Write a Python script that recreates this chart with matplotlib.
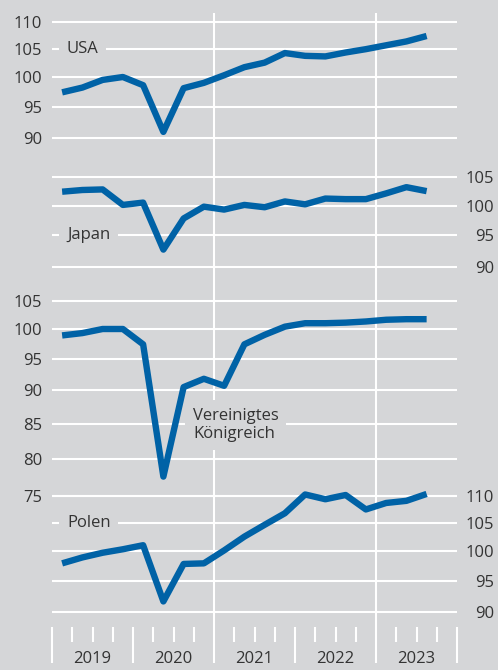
import numpy as np
import matplotlib
matplotlib.use("Agg")
import matplotlib.pyplot as plt
from matplotlib.ticker import NullLocator, MultipleLocator

# quarterly index values, 2019Q1 .. 2023Q3
quarters = np.arange(2019, 2023.75, 0.25) + 0.125
usa = [97.4, 98.2, 99.5, 100.0, 98.6, 91.0, 98.1, 99.0, 100.3, 101.7,
       102.5, 104.2, 103.7, 103.6, 104.3, 104.9, 105.6, 106.3, 107.3]
japan = [102.4, 102.7, 102.8, 100.1, 100.5, 92.7, 97.8, 99.8, 99.3, 100.1,
         99.7, 100.7, 100.2, 101.2, 101.1, 101.1, 102.1, 103.2, 102.5]
uk = [98.9, 99.3, 100.0, 100.0, 97.4, 77.6, 90.5, 91.8, 90.7, 97.4,
      99.0, 100.4, 101.0, 101.0, 101.1, 101.3, 101.6, 101.7, 101.7]
poland = [97.9, 98.9, 99.7, 100.3, 101.0, 91.7, 97.8, 97.9, 100.1, 102.5,
          104.6, 106.7, 110.2, 109.3, 110.1, 107.4, 108.6, 109.0, 110.3]

years = [2019, 2020, 2021, 2022, 2023]
usa_ticks = [90, 95, 100, 105, 110]
japan_ticks = [90, 95, 100, 105]
uk_ticks = [75, 80, 85, 90, 95, 100, 105]
poland_ticks = [90, 95, 100, 105, 110]

bg = "#d5d6d8"
blue = "#0062a6"
txt = "#333333"
fs = 12

W, H = 498, 670
left_px, right_px, top_px, bot_px = 52, 457, 13, 627
k = 582.0  # pixels per ln unit, same for all panels

fig = plt.figure(figsize=(W / 100, H / 100), dpi=100, facecolor=bg)
rect = [left_px / W, 1 - bot_px / H, (right_px - left_px) / W, (bot_px - top_px) / H]

plt.rcParams["font.family"] = ["Open Sans", "DejaVu Sans"]

base = fig.add_axes(rect, facecolor=bg)
base.set_xlim(2019, 2024)
base.set_ylim(0, 1)
for s in base.spines.values():
    s.set_visible(False)
base.set_yticks([])
base.xaxis.set_major_locator(MultipleLocator(1))
base.xaxis.set_minor_locator(MultipleLocator(0.25))
base.tick_params(axis="x", which="major", direction="out", length=26, width=1.5,
                 color="white", labelbottom=False)
base.tick_params(axis="x", which="minor", direction="out", length=11, width=1.5,
                 color="white")
for yr in [2021, 2023]:
    base.axvline(yr, color="white", lw=1.5, zorder=1)
for yr in years:
    base.text(yr + 0.5, -32 / (bot_px - top_px), str(yr), transform=base.get_xaxis_transform(),
              ha="center", va="center", fontsize=fs, color=txt)


def panel(values, ticks, v0, y0, side):
    ax = fig.add_axes(rect, sharex=base)
    ax.patch.set_visible(False)
    ax.set_yscale("log")
    ax.set_ylim(v0 * np.exp(-(bot_px - y0) / k), v0 * np.exp((y0 - top_px) / k))
    for s in ax.spines.values():
        s.set_visible(False)
    ax.set_yticks(ticks, labels=[str(t) for t in ticks])
    ax.yaxis.set_minor_locator(NullLocator())
    ax.tick_params(axis="x", which="both", length=0, labelbottom=False)
    if side == "left":
        ax.tick_params(axis="y", length=0, pad=7, labelsize=fs, labelcolor=txt)
    else:
        ax.tick_params(axis="y", length=0, pad=26.5, labelsize=fs, labelcolor=txt,
                       labelleft=False, labelright=True)
        for lab in ax.get_yticklabels():
            lab.set_horizontalalignment("right")
    ax.grid(axis="y", color="white", lw=1.5, zorder=1)
    ax.grid(axis="x", visible=False)
    ax.set_axisbelow(True)
    ax.plot(quarters, values, color=blue, lw=4.6, solid_capstyle="butt",
            solid_joinstyle="round", zorder=3)
    return ax


box = dict(boxstyle="square,pad=0.45", facecolor=bg, edgecolor="none")

ax_usa = panel(usa, usa_ticks, 100, 77, "left")
ax_usa.text(2019.185, 105, "USA", fontsize=fs, color=txt,
            ha="left", va="center", bbox=box, zorder=4)

ax_jp = panel(japan, japan_ticks, 100, 205.5, "right")
ax_jp.text(2019.185, 95, "Japan", fontsize=fs, color=txt,
           ha="left", va="center", bbox=box, zorder=4)

ax_uk = panel(uk, uk_ticks, 100, 329, "left")
ax_uk.text(2020.74, 84.8, "Vereinigtes\nKönigreich", fontsize=fs, color=txt,
           ha="left", va="center", linespacing=1.2, bbox=box, zorder=4)

ax_pl = panel(poland, poland_ticks, 100, 551, "right")
ax_pl.text(2019.185, 105, "Polen", fontsize=fs, color=txt,
           ha="left", va="center", bbox=box, zorder=4)

fig.savefig("out.png", dpi=100, facecolor=bg)
